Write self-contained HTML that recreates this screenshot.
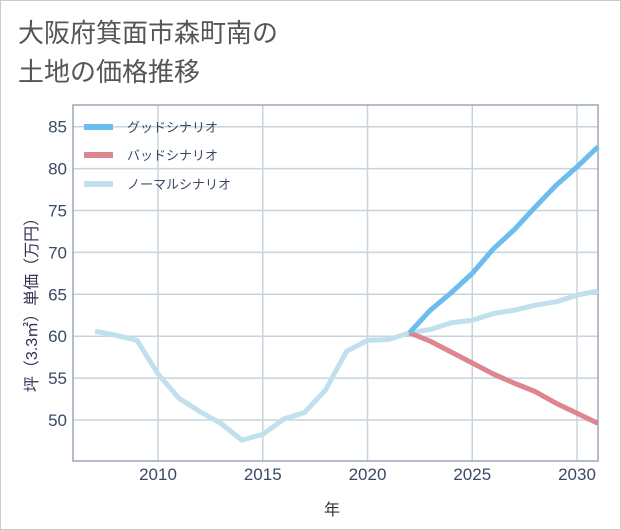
<!DOCTYPE html>
<html><head><meta charset="utf-8"><style>
body{margin:0;background:#fff;font-family:"Liberation Sans","Noto Sans CJK JP",sans-serif}
#wrap{position:relative;width:619px;height:528px;border:1px solid #ccc;background:#fff}
</style></head><body>
<div id="wrap">
<svg id="c" width="619" height="528" style="position:absolute;left:0;top:0">
<text x="17" y="41" font-size="26" fill="#555">大阪府箕面市森町南の</text>
<text x="17" y="80" font-size="26" fill="#555">土地の価格推移</text>
<g id="grid"></g><g id="series"></g>
<text x="331" y="514" font-size="16" fill="#333" text-anchor="middle">年</text>
<text transform="translate(36,300) rotate(-90)" font-size="16" fill="#335" text-anchor="middle">坪（3.3㎡）単価（万円）</text>
</svg></div>
<script>
const years=[2007,2008,2009,2010,2011,2012,2013,2014,2015,2016,2017,2018,2019,2020,2021,2022,2023,2024,2025,2026,2027,2028,2029,2030,2031];
const normal=[60.6,60.1,59.5,55.5,52.6,51,49.6,47.6,48.3,50.1,50.9,53.6,58.2,59.5,59.6,60.4,60.8,61.6,61.9,62.7,63.1,63.7,64.1,64.9,65.4];
const goodYears=[2022,2023,2024,2025,2026,2027,2028,2029,2030,2031];
const good=[60.4,63.1,65.2,67.5,70.4,72.7,75.4,78,80.2,82.6];
const bad=[60.4,59.4,58.1,56.8,55.5,54.4,53.4,52,50.8,49.6];
const yTicks=[50,55,60,65,70,75,80,85];
const xTicks=[2010,2015,2020,2025,2030];
const NS='http://www.w3.org/2000/svg';
const L=72,R=597,T=104,B=460;
const x=v=>157+(v-2010)*20.95;
const y=v=>419-(v-50)*8.38;
function mk(t,a,p){const e=document.createElementNS(NS,t);for(const k in a)e.setAttribute(k,a[k]);p.appendChild(e);return e;}
const g=document.getElementById('grid'),s=document.getElementById('series');
yTicks.forEach(v=>{
const l=mk('line',{x1:L,x2:R,y1:y(v),y2:y(v),stroke:'#c8d3de','stroke-width':1.5},g);


const t=mk('text',{x:L-6,y:y(v)+6,'font-size':17,fill:'#3a4a66','text-anchor':'end'},g);t.textContent=v;


});
xTicks.forEach(v=>{
const l=mk('line',{x1:x(v),x2:x(v),y1:T,y2:B,stroke:'#c8d3de','stroke-width':1.5},g);


const t=mk('text',{x:x(v),y:B+19,'font-size':17,fill:'#3a4a66','text-anchor':'middle'},g);t.textContent=v;


});
const fr=mk('path',{d:`M${L},${T}H${R}V${B}H${L}Z`,fill:'none',stroke:'#9aa8b8','stroke-width':1.5},g);


function line(xs,vs,c,n){const p=mk('polyline',{points:xs.map((yr,i)=>x(yr)+','+y(vs[i])).join(' '),fill:'none',stroke:c,'stroke-width':5,'stroke-linejoin':'round'},s);

}
line(years,normal,'#bfe0ec','normal-scenario-line');
line(goodYears,bad,'#de868f','bad-scenario-line');
line(goodYears,good,'#6cbcf0','good-scenario-line');
[['グッドシナリオ','#6cbcf0',126],['バッドシナリオ','#de868f',154],['ノーマルシナリオ','#bfe0ec',183]].forEach(([n,c,yy])=>{
const r=mk('rect',{x:83,y:yy-3,width:29,height:6,fill:c},s);


const t=mk('text',{x:126,y:yy+5,'font-size':13,fill:'#3a4a66'},s);t.textContent=n;


});
</script>
</body></html>
